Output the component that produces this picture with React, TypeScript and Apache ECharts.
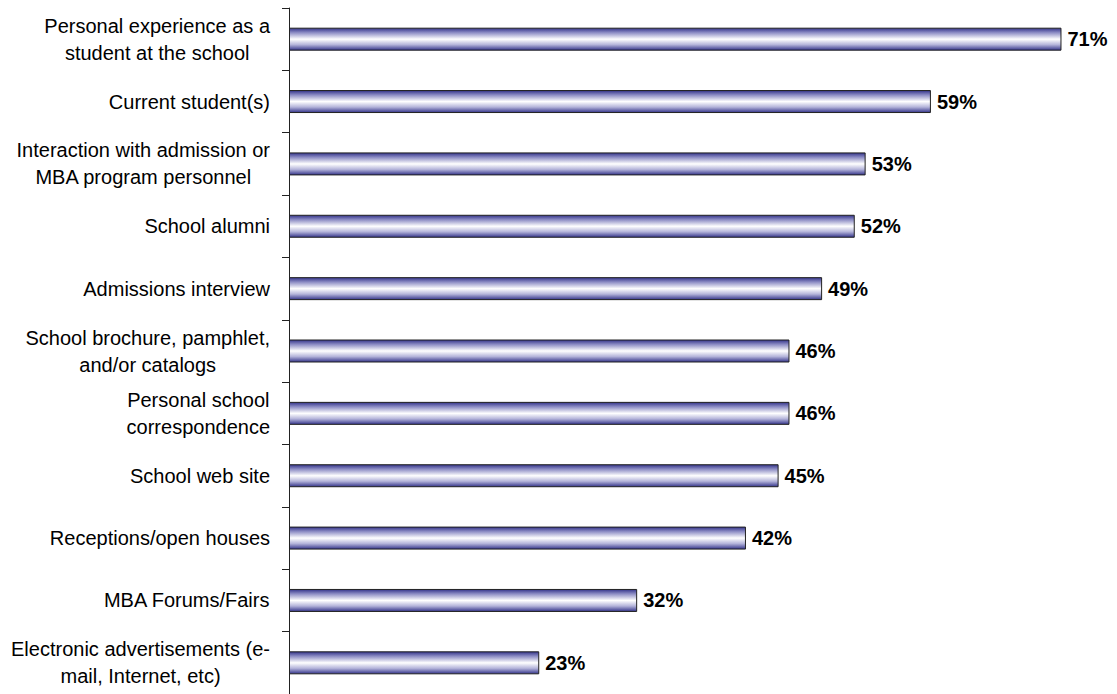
import React, { useEffect, useRef } from "react";
import * as echarts from "echarts";

const categories = [
  "Personal experience as a\nstudent at the school",
  "Current student(s)",
  "Interaction with admission or\nMBA program personnel",
  "School alumni",
  "Admissions interview",
  "School brochure, pamphlet,\nand/or catalogs",
  "Personal school\ncorrespondence",
  "School web site",
  "Receptions/open houses",
  "MBA Forums/Fairs",
  "Electronic advertisements (e-\nmail, Internet, etc)",
];
const values = [71, 59, 53, 52, 49, 46, 46, 45, 42, 32, 23];

export default function App() {
  const ref = useRef<HTMLDivElement>(null);
  useEffect(() => {
    if (!ref.current) return;
    const chart = echarts.init(ref.current, null, { renderer: "svg" });
    chart.setOption({
      animation: false,
      backgroundColor: "#ffffff",
      grid: { left: 289, right: 12, top: 8, bottom: 0, containLabel: false },
      xAxis: {
        type: "value",
        min: 0,
        max: 75,
        show: false,
      },
      yAxis: {
        type: "category",
        inverse: true,
        data: categories,
        axisLine: { show: true, lineStyle: { color: "#222", width: 1 } },
        axisTick: { show: true, length: 7, lineStyle: { color: "#222", width: 1 } },
        axisLabel: {
          margin: 19,
          color: "#000",
          fontFamily: "Liberation Sans, Arial, sans-serif",
          fontSize: 20,
          lineHeight: 27,
          formatter: (v: string) =>
            v
              .split("\n")
              .map((l) => `{c|${l}}`)
              .join("\n"),
          rich: {
            c: {
              align: "center",
              fontFamily: "Liberation Sans, Arial, sans-serif",
              fontSize: 20,
              lineHeight: 27,
              color: "#000",
            },
          },
        },
        splitLine: { show: false },
      },
      series: [
        {
          type: "bar",
          data: values,
          barWidth: 23,
          itemStyle: {
            borderColor: "#222",
            borderWidth: 1,
            color: new echarts.graphic.LinearGradient(0, 0, 0, 1, [
              { offset: 0, color: "#34348a" },
              { offset: 0.2, color: "#8c8cc4" },
              { offset: 0.5, color: "#ffffff" },
              { offset: 0.75, color: "#b4b4da" },
              { offset: 1, color: "#34348a" },
            ]),
          },
          label: {
            show: true,
            position: "right",
            distance: 6,
            formatter: "{c}%",
            color: "#000",
            fontFamily: "Liberation Sans, Arial, sans-serif",
            fontWeight: "bold",
            fontSize: 20,
          },
        },
      ],
    });
    return () => chart.dispose();
  }, []);
  return (
    <div
      ref={ref}
      style={{ position: "absolute", left: 0, top: 0, width: 1117, height: 694 }}
    />
  );
}
